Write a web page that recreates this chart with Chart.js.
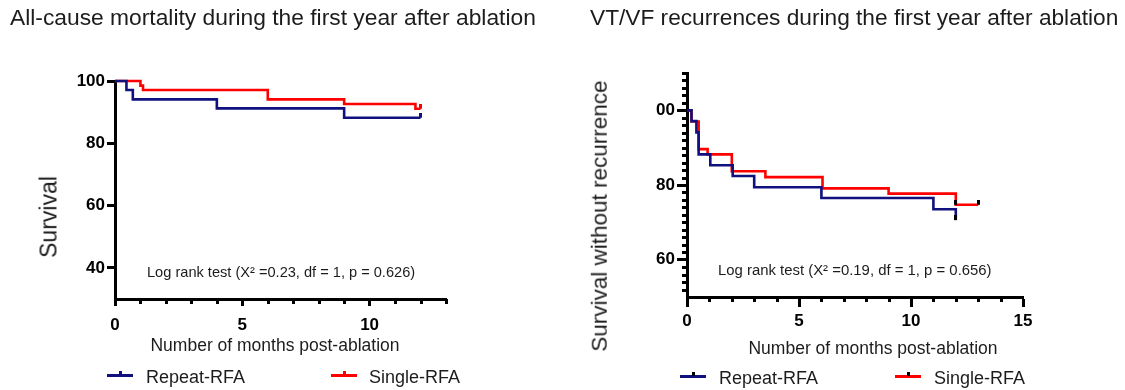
<!DOCTYPE html>
<html><head><meta charset="utf-8">
<script src="https://cdn.jsdelivr.net/npm/chart.js@4.4.0/dist/chart.umd.min.js"></script>
<style>
html,body{margin:0;padding:0;background:#fff;}
#wrap{position:relative;width:1125px;height:390px;overflow:hidden;font-family:"Liberation Sans",Arial,sans-serif;color:#1c1c1c;}
canvas{position:absolute;top:0;}
.t{position:absolute;white-space:nowrap;line-height:1;}
.rot{transform:translate(-50%,-50%) rotate(-90deg);}
.ctr{transform:translateX(-50%);}
.sym{position:absolute;}
</style></head><body>
<div id="wrap">
<canvas id="c1" width="560" height="390" style="left:0"></canvas>
<canvas id="c2" width="565" height="390" style="left:560px"></canvas>

<div class="t" style="left:10px;top:6px;font-size:22.8px">All-cause mortality during the first year after ablation</div>
<div class="t" style="left:590px;top:6px;font-size:22.7px">VT/VF recurrences during the first year after ablation</div>

<div class="t rot" style="left:49px;top:217px;font-size:23px">Survival</div>
<div class="t rot" style="left:600px;top:216px;font-size:22.5px">Survival without recurrence</div>

<div class="t ctr" style="left:275px;top:337px;font-size:17.5px">Number of months post-ablation</div>
<div class="t ctr" style="left:873px;top:340px;font-size:17.5px">Number of months post-ablation</div>

<div class="t" style="left:147px;top:265px;font-size:14.6px">Log rank test (X² =0.23, df = 1, p = 0.626)</div>
<div class="t" style="left:718px;top:263px;font-size:14.9px">Log rank test (X² =0.19, df = 1, p = 0.656)</div>

<div class="sym" style="left:107px;top:374px;width:26px;height:3px;background:#10107f"></div>
<div class="sym" style="left:119px;top:371px;width:3px;height:4px;background:#10107f"></div>
<div class="t" style="left:146px;top:368px;font-size:18px">Repeat-RFA</div>
<div class="sym" style="left:331px;top:374px;width:26px;height:3px;background:#ff0000"></div>
<div class="sym" style="left:343px;top:371px;width:3px;height:4px;background:#ff0000"></div>
<div class="t" style="left:369px;top:368px;font-size:18px">Single-RFA</div>

<div class="sym" style="left:680px;top:375px;width:26px;height:3px;background:#10107f"></div>
<div class="sym" style="left:692px;top:372px;width:3px;height:4px;background:#000"></div>
<div class="t" style="left:719px;top:369px;font-size:18px">Repeat-RFA</div>
<div class="sym" style="left:895px;top:375px;width:26px;height:3px;background:#ff0000"></div>
<div class="sym" style="left:907px;top:372px;width:3px;height:4px;background:#000"></div>
<div class="t" style="left:934px;top:369px;font-size:18px">Single-RFA</div>
</div>
<script>
// ---------- Data: all-cause mortality (Kaplan-Meier) ----------
const mortRepeatMonths = [0, 0.45, 0.7, 4, 9, 12];
const mortRepeatSurv   = [100, 97.1, 94.1, 91.2, 88.2, 88.2];
const mortSingleMonths = [0, 1.0, 1.1, 6, 9, 11.8, 12];
const mortSingleSurv   = [100, 98.5, 97.1, 94.1, 92.6, 91.1, 91.1];
const mortRepeatCensor = [12];
const mortSingleCensor = [12];
const mortXTicks = [0, 5, 10];
const mortYTicks = [40, 60, 80, 100];
const mortYLabels = ['40', '60', '80', '100'];

// ---------- Data: VT/VF recurrences ----------
const vtRepeatMonths = [0, 0.2, 0.42, 0.52, 1.04, 2.04, 3.0, 6.0, 11.0, 12.0];
const vtRepeatSurv   = [100, 97.1, 94.1, 88.2, 85.3, 82.4, 79.4, 76.5, 73.5, 70.6];
const vtSingleMonths = [0, 0.2, 0.52, 0.92, 2.0, 3.5, 6.05, 9.0, 12.0, 13.0];
const vtSingleSurv   = [100, 97.0, 89.6, 88.2, 83.7, 82.1, 79.1, 77.7, 74.7, 74.7];
const vtRepeatCensor = [12];
const vtSingleCensor = [12, 13];
const vtXTicks = [0, 5, 10, 15];
const vtYTicks = [60, 80, 100];
const vtYLabels = ['60', '80', '00'];

const NAVY = '#10107f', RED = '#ff0000';

function pts(xs, ys) { return xs.map((x, i) => ({x: x, y: ys[i]})); }
function survAt(xs, ys, t) { let v = ys[0]; xs.forEach((x, i) => { if (x <= t) v = ys[i]; }); return v; }
function censor(xs, ys, times) { return times.map(t => ({x: t, y: survAt(xs, ys, t)})); }
function tickImg(color, w, h) {
  const c = document.createElement('canvas'); c.width = w; c.height = 2 * h;
  const g = c.getContext('2d'); g.fillStyle = color; g.fillRect(0, 0, w, h); return c;
}
function range(a, b, s, skip) { const r = []; for (let v = a; v <= b + 1e-9; v += s) if (!skip.includes(v)) r.push(v); return r; }

const minorTicks = {
  id: 'minorTicks',
  afterDraw(chart, args, o) {
    const ctx = chart.ctx, a = chart.chartArea, xs = chart.scales.x, ys = chart.scales.y;
    ctx.save(); ctx.strokeStyle = '#000'; ctx.lineWidth = 3;
    (o.x || []).forEach(v => { const p = Math.round(xs.getPixelForValue(v)) + 0.5; ctx.beginPath(); ctx.moveTo(p, a.bottom); ctx.lineTo(p, a.bottom + o.xLen); ctx.stroke(); });
    (o.y || []).forEach(v => { const p = Math.round(ys.getPixelForValue(v)) + 0.5; ctx.beginPath(); ctx.moveTo(a.left, p); ctx.lineTo(a.left - o.yLen, p); ctx.stroke(); });
    ctx.restore();
  }
};

function lineDs(label, xs, ys, color) {
  return {label, data: pts(xs, ys), borderColor: color, backgroundColor: color, borderWidth: 2.6,
          stepped: true, pointRadius: 0, fill: false, clip: false, order: 2};
}
function censorDs(label, xs, ys, times, color) {
  return {label, data: censor(xs, ys, times), showLine: false, pointStyle: tickImg(color, 3, 5),
          pointRadius: 3, pointHoverRadius: 3, clip: false, order: 1};
}

function makeChart(id, cfg) {
  const font = {family: '"Liberation Sans", Arial, sans-serif', weight: 'bold', size: cfg.fontSize};
  return new Chart(document.getElementById(id), {
    type: 'line',
    data: {datasets: cfg.datasets},
    plugins: [minorTicks],
    options: {
      responsive: false, animation: false, events: [],
      layout: {padding: cfg.padding},
      plugins: {legend: {display: false}, tooltip: {enabled: false}, title: {display: false},
                minorTicks: cfg.minor},
      scales: {
        x: {type: 'linear', min: cfg.xMin, max: cfg.xMax,
            border: {display: true, color: '#000', width: 3},
            grid: {drawOnChartArea: false, drawTicks: true, tickLength: cfg.xTickLen, tickWidth: 3, tickColor: '#000'},
            ticks: {font: font, color: '#000', padding: cfg.xPad, maxRotation: 0, autoSkip: false},
            afterBuildTicks: s => { s.ticks = cfg.xTicks.map(v => ({value: v})); },
            afterFit: s => { s.height = 40; }},
        y: {type: 'linear', min: cfg.yMin, max: cfg.yMax,
            border: {display: true, color: '#000', width: 3},
            grid: {drawOnChartArea: false, drawTicks: true, tickLength: cfg.yTickLen, tickWidth: 3, tickColor: '#000'},
            ticks: {font: font, color: '#000', padding: 2, autoSkip: false,
                    callback: (v) => { const i = cfg.yTicks.indexOf(v); return i >= 0 ? cfg.yLabels[i] : ''; }},
            afterBuildTicks: s => { s.ticks = cfg.yTicks.map(v => ({value: v})); },
            afterFit: s => { s.width = 60; }}
      }
    }
  });
}

makeChart('c1', {
  datasets: [
    lineDs('Repeat-RFA', mortRepeatMonths, mortRepeatSurv, NAVY),
    lineDs('Single-RFA', mortSingleMonths, mortSingleSurv, RED),
    censorDs('Repeat-RFA censored', mortRepeatMonths, mortRepeatSurv, mortRepeatCensor, NAVY),
    censorDs('Single-RFA censored', mortSingleMonths, mortSingleSurv, mortSingleCensor, RED)
  ],
  padding: {left: 55, right: 114, top: 81, bottom: 51},
  xMin: 0, xMax: 13, yMin: 30, yMax: 100, xTicks: mortXTicks, yTicks: mortYTicks, yLabels: mortYLabels,
  xTickLen: 7, yTickLen: 8, xPad: 9, fontSize: 17,
  minor: {x: range(1, 13, 1, mortXTicks), xLen: 5, y: [], yLen: 0}
});

makeChart('c2', {
  datasets: [
    lineDs('Repeat-RFA', vtRepeatMonths, vtRepeatSurv, NAVY),
    lineDs('Single-RFA', vtSingleMonths, vtSingleSurv, RED),
    censorDs('Repeat-RFA censored', vtRepeatMonths, vtRepeatSurv, vtRepeatCensor, '#000'),
    censorDs('Single-RFA censored', vtSingleMonths, vtSingleSurv, vtSingleCensor, '#000')
  ],
  padding: {left: 67, right: 102, top: 73, bottom: 53},
  xMin: 0, xMax: 15, yMin: 50, yMax: 110, xTicks: vtXTicks, yTicks: vtYTicks, yLabels: vtYLabels,
  xTickLen: 10, yTickLen: 10, xPad: 4, fontSize: 17,
  minor: {x: range(1, 14, 1, vtXTicks), xLen: 5, y: range(52, 110, 2, vtYTicks), yLen: 5}
});
</script>
</body></html>
